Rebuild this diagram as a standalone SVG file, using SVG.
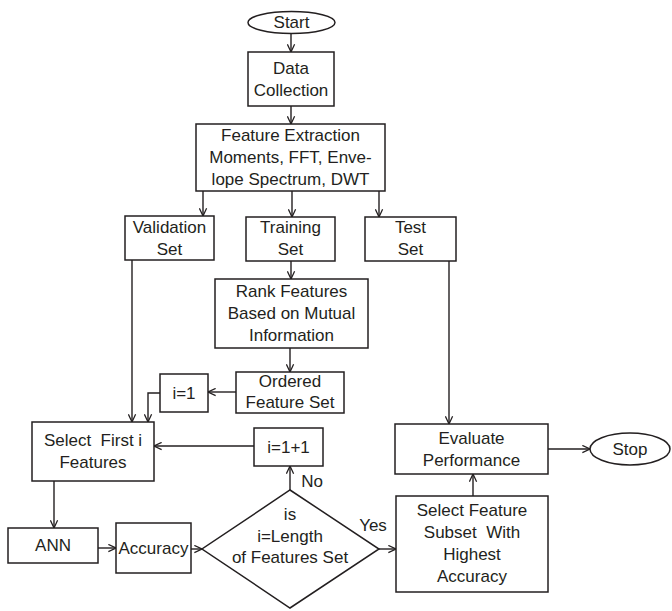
<svg xmlns="http://www.w3.org/2000/svg" width="672" height="611" viewBox="0 0 672 611">
<defs>
<style>
.n rect,.n ellipse,.n polygon{fill:#fff;stroke:#231f20;stroke-width:1.5}
text{font-family:"Liberation Sans",Arial,sans-serif;font-size:17px;fill:#231f20;text-anchor:middle;white-space:pre}
.c path{fill:none;stroke:#231f20;stroke-width:1.4;marker-end:url(#ah)}
</style>
<marker id="ah" viewBox="0 0 10 10" refX="9.5" refY="5" markerWidth="9" markerHeight="9" markerUnits="userSpaceOnUse" orient="auto">
<path d="M1,1 L9.5,5 L1,9" fill="none" stroke="#231f20" stroke-width="1.4"/>
</marker>
</defs>
<rect width="672" height="611" fill="#fff"/>
<g class="c" id="connectors">
<path d="M291,33 V52"/>
<path d="M291,106 V124"/>
<path d="M203,191 V216"/>
<path d="M292,191 V217"/>
<path d="M379,191 V217"/>
<path d="M291,261 V279"/>
<path d="M290,348 V372"/>
<path d="M236,392 H208"/>
<path d="M160,393 H148 V422"/>
<path d="M132,260 V422"/>
<path d="M254,446 H154"/>
<path d="M54,481 V528"/>
<path d="M98,548 H116"/>
<path d="M191,549 H202"/>
<path d="M290,490 V466"/>
<path d="M379,549 H396"/>
<path d="M473,496 V474"/>
<path d="M449,261 V424"/>
<path d="M548,449 H590"/>
</g>
<g class="n" id="start"><ellipse cx="291.5" cy="22.5" rx="43.5" ry="11"/><text x="291.5" y="28">Start</text></g>
<g class="n" id="data"><rect x="248" y="52" width="86" height="54"/><text x="291" y="74">Data</text><text x="291" y="96">Collection</text></g>
<g class="n" id="fe"><rect x="196" y="124" width="189" height="67"/><text x="290.5" y="141">Feature Extraction</text><text x="290.5" y="163">Moments, FFT, Enve-</text><text x="290.5" y="185">lope Spectrum, DWT</text></g>
<g class="n" id="validation"><rect x="125" y="216" width="89" height="44"/><text x="169.5" y="233">Validation</text><text x="169.5" y="255">Set</text></g>
<g class="n" id="training"><rect x="246" y="217" width="89" height="44"/><text x="290.5" y="233">Training</text><text x="290.5" y="255">Set</text></g>
<g class="n" id="test"><rect x="365" y="217" width="91" height="44"/><text x="410.5" y="233">Test</text><text x="410.5" y="255">Set</text></g>
<g class="n" id="rank"><rect x="215" y="279" width="153" height="69"/><text x="291.5" y="297">Rank Features</text><text x="291.5" y="319">Based on Mutual</text><text x="291.5" y="341">Information</text></g>
<g class="n" id="ordered"><rect x="236" y="372" width="108" height="41"/><text x="290" y="387">Ordered</text><text x="290" y="408">Feature Set</text></g>
<g class="n" id="i1"><rect x="160" y="374" width="48" height="38"/><text x="184" y="399">i=1</text></g>
<g class="n" id="select"><rect x="32" y="422" width="122" height="59"/><text x="93" y="446">Select  First i</text><text x="93" y="468">Features</text></g>
<g class="n" id="inc"><rect x="254" y="428" width="69" height="38"/><text x="288.5" y="453">i=1+1</text></g>
<g class="n" id="ann"><rect x="8" y="528" width="90" height="35"/><text x="53" y="551">ANN</text></g>
<g class="n" id="accuracy"><rect x="116" y="523" width="75" height="50"/><text x="153.5" y="554">Accuracy</text></g>
<g class="n" id="decision"><polygon points="290,490 379,549 290,608 202,549"/><text x="290" y="520">is</text><text x="290" y="542">i=Length</text><text x="290" y="563">of Features Set</text></g>
<g id="labels"><text x="312" y="487">No</text><text x="373" y="531">Yes</text></g>
<g class="n" id="subset"><rect x="396" y="496" width="152" height="96"/><text x="472" y="516">Select Feature</text><text x="472" y="538">Subset  With</text><text x="472" y="560">Highest</text><text x="472" y="582">Accuracy</text></g>
<g class="n" id="evaluate"><rect x="395" y="424" width="153" height="50"/><text x="471.5" y="444">Evaluate</text><text x="471.5" y="466">Performance</text></g>
<g class="n" id="stop"><ellipse cx="630" cy="449" rx="40" ry="16"/><text x="630" y="455">Stop</text></g>
</svg>
